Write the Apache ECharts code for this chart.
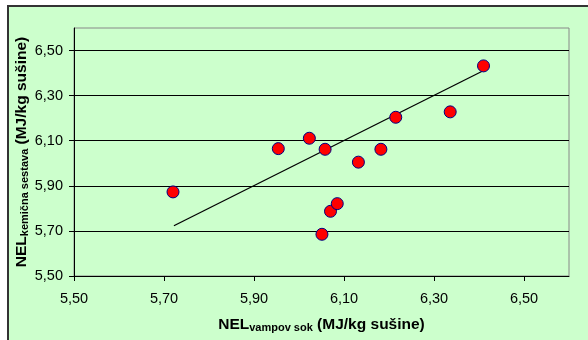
<!DOCTYPE html>
<html>
<head>
<meta charset="utf-8">
<script src="https://cdn.jsdelivr.net/npm/echarts@6/dist/echarts.min.js"></script>
<style>
html,body{margin:0;padding:0;background:#fff}
#chart{width:588px;height:340px}
</style>
</head>
<body>
<div id="chart"></div>
<script>
// NEL vampov sok (x) vs NEL kemicna sestava (y)
var vampovSok = [5.72, 5.954, 6.023, 6.051, 6.058, 6.07, 6.085, 6.132, 6.182, 6.215, 6.336, 6.41];
var kemicnaSestava = [5.873, 6.065, 6.111, 5.685, 6.062, 5.787, 5.821, 6.005, 6.062, 6.204, 6.228, 6.432];
var trendX = [5.722, 6.406];
var trendY = [5.723, 6.407];
var axisTicks = [5.5, 5.7, 5.9, 6.1, 6.3, 6.5];

var points = [];
for (var i = 0; i < vampovSok.length; i++) {
	points.push([vampovSok[i], kemicnaSestava[i]]);
}
var trend = [];
for (var j = 0; j < trendX.length; j++) {
	trend.push([trendX[j], trendY[j]]);
}

function fmt(v){
	return v.toFixed(2).replace('.', ',');
}

var nameRich = {
	a: {fontFamily: 'Liberation Sans', fontWeight: 'bold', fontSize: 15.5, color: '#000'},
	b: {fontFamily: 'Liberation Sans', fontWeight: 'bold', fontSize: 11, color: '#000', verticalAlign: 'bottom', padding: [6, 0, 0, 0]}
};

var myChart = echarts.init(document.getElementById('chart'));
option = {
	backgroundColor: '#fff',
	animation: false,
	graphic: [{
		type: 'rect',
		z: -100,
		shape: {x: 8, y: 6, width: 700, height: 500},
		style: {fill: '#CCFFCC', stroke: '#333', lineWidth: 2}
	}],
	grid: {
		left: 74, top: 28, right: 19, bottom: 64,
		show: true,
		backgroundColor: 'transparent',
		borderColor: '#888',
		borderWidth: 1
	},
	xAxis: {
		type: 'value',
		min: 5.5,
		max: 6.6,
		name: '{a|NEL}{b|vampov sok}{a| (MJ/kg sušine)}',
		nameLocation: 'middle',
		nameGap: 40,
		nameMoveOverlap: false,
		nameTextStyle: {rich: nameRich},
		axisLine: {show: true, lineStyle: {color: '#000', width: 1}},
		axisTick: {show: true, inside: false, length: 5, customValues: axisTicks, lineStyle: {color: '#000'}},
		axisLabel: {customValues: axisTicks, formatter: fmt, margin: 15,
			fontFamily: 'Liberation Sans', fontSize: 14.5, color: '#000'},
		splitLine: {show: false}
	},
	yAxis: {
		type: 'value',
		min: 5.5,
		max: 6.6,
		name: '{a|NEL}{b|kemična sestava}{a| (MJ/kg sušine)}',
		nameLocation: 'middle',
		nameGap: 44,
		nameMoveOverlap: false,
		nameTextStyle: {rich: nameRich},
		axisLine: {show: true, lineStyle: {color: '#000', width: 1}},
		axisTick: {show: true, inside: false, length: 5, customValues: axisTicks, lineStyle: {color: '#000'}},
		axisLabel: {customValues: axisTicks, formatter: fmt, margin: 11,
			fontFamily: 'Liberation Sans', fontSize: 14.5, color: '#000'},
		splitLine: {show: true, lineStyle: {color: '#000', width: 1}}
	},
	series: [
		{
			type: 'line',
			data: trend,
			symbol: 'none',
			lineStyle: {color: '#000', width: 1.3},
			z: 3
		},
		{
			type: 'scatter',
			data: points,
			symbol: 'circle',
			symbolSize: 12,
			itemStyle: {color: '#FF0000', borderColor: '#000080', borderWidth: 1, opacity: 1},
			z: 4
		}
	]
};
myChart.setOption(option);
</script>
</body>
</html>
